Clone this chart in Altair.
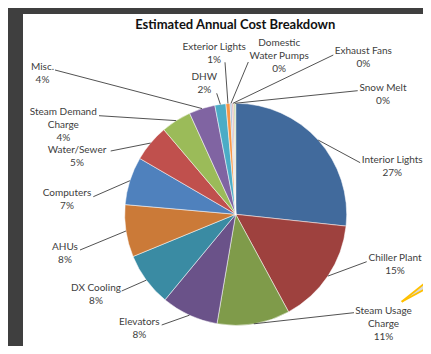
import math
import altair as alt
import pandas as pd

# ---------------- data ----------------
categories = ["Interior Lights", "Chiller Plant", "Steam Usage Charge", "Elevators",
              "DX Cooling", "AHUs", "Computers", "Water/Sewer", "Steam Demand Charge",
              "Misc.", "DHW", "Exterior Lights", "Domestic Water Pumps", "Exhaust Fans",
              "Snow Melt"]
label_names = ["Interior Lights", "Chiller Plant", "Steam Usage\nCharge", "Elevators",
               "DX Cooling", "AHUs", "Computers", "Water/Sewer", "Steam Demand\nCharge",
               "Misc.", "DHW", "Exterior Lights", "Domestic\nWater Pumps", "Exhaust Fans",
               "Snow Melt"]
shares = [26.7, 15.4, 10.6, 8.3, 7.8, 7.6, 7.0, 5.4, 4.4, 3.8, 1.6, 0.6, 0.27, 0.27, 0.27]
colors = ["#416A9C", "#9E413E", "#7F9B4A", "#6A5289", "#3A8BA3", "#CB7A38", "#4F81BD",
          "#C0504D", "#9BBB59", "#8064A2", "#4BACC6", "#F79646", "#A5B9D8", "#E0AEAD",
          "#C9D9A6"]
title_text = "Estimated Annual Cost Breakdown"

# ---------------- layout (annotation placement, pixels from pie centre) ----------------
W, H = 400, 332          # plot area
CX, CY, R = 212.7, 200.3, 111
# centre x / first-line y of each label block
label_off = [(156.5, -54.3), (159.3, 44.0), (147.8, 96.4), (-96.4, 107.4),
             (-139.7, 73.4), (-170.7, 32.4), (-168.7, -21.6), (-158.7, -64.8),
             (-172.4, -102.3), (-193.2, -147.6), (-31.4, -137.0), (-21.5, -167.6),
             (43.5, -171.0), (127.6, -163.3), (147.3, -126.0)]
leader_end = [(124.5, -51.6), (131.0, 47.4), (118.3, 98.4), (-74.0, 110.7),
              (-114.0, 76.7), (-155.7, 35.7), (-142.4, -17.6), (-125.0, -63.3),
              (-136.7, -98.6), (-180.7, -144.3), (-19.0, -121.0), (-10.7, -152.0),
              (12.6, -152.3), (97.6, -159.3), (122.0, -123.6)]
callout_x = [166.0, 195.3]
callout_top = [87.4, 64.0]
callout_bot = [87.4, 71.7]

# ---------------- tables ----------------
total = sum(shares)
slices = pd.DataFrame({"cat": categories, "value": shares, "idx": list(range(len(shares)))})

lab_rows, lead_rows = [], []
cum = 0.0
for i, (name, v) in enumerate(zip(label_names, shares)):
    a = 2 * math.pi * (cum + v / 2) / total
    cum += v
    ex, ey = R * math.sin(a), -R * math.cos(a)
    lab_rows.append({"x": label_off[i][0], "y": label_off[i][1],
                     "text": f"{name}\n{round(v)}%"})
    lead_rows.append({"i": i, "o": 0, "x": ex, "y": ey})
    lead_rows.append({"i": i, "o": 1, "x": leader_end[i][0], "y": leader_end[i][1]})
labels = pd.DataFrame(lab_rows)
leaders = pd.DataFrame(lead_rows)

callout = pd.DataFrame({"x": callout_x, "top": callout_top, "bot": callout_bot})
callout_edges = pd.DataFrame({
    "x": callout_x + callout_x,
    "y": callout_top + callout_bot,
    "edge": ["t", "t", "b", "b"],
})

xs = alt.Scale(domain=[-CX, W - CX], nice=False, zero=False)
ys = alt.Scale(domain=[-CY, H - CY], nice=False, zero=False, reverse=True)

arcs = alt.Chart(slices).mark_arc(radius=R, stroke="white", strokeWidth=0.5).encode(
    theta=alt.Theta("value:Q", stack=True),
    color=alt.Color("cat:N", scale=alt.Scale(domain=categories, range=colors), legend=None),
    order=alt.Order("idx:Q"),
    x=alt.value(CX),
    y=alt.value(CY),
)

lead = alt.Chart(leaders).mark_line(color="#262626", strokeWidth=0.8).encode(
    x=alt.X("x:Q", scale=xs, axis=None),
    y=alt.Y("y:Q", scale=ys, axis=None),
    detail="i:N",
    order="o:Q",
)

text = alt.Chart(labels).mark_text(
    lineBreak="\n", align="center", baseline="middle", lineHeight=13,
    font="Lato", fontSize=10, color="#404040",
).encode(
    x=alt.X("x:Q", scale=xs, axis=None),
    y=alt.Y("y:Q", scale=ys, axis=None),
    text="text:N",
)

title = alt.Chart(pd.DataFrame({"t": [title_text]})).mark_text(
    font="Lato", fontSize=13, fontWeight="bold", color="#111111",
    align="center", baseline="middle",
).encode(text="t:N", x=alt.value(212.3), y=alt.value(11))

call_area = alt.Chart(callout).mark_area(color="#D9D9D9").encode(
    x=alt.X("x:Q", scale=xs, axis=None),
    y=alt.Y("top:Q", scale=ys, axis=None),
    y2="bot:Q",
)
call_lines = alt.Chart(callout_edges).mark_line(color="#FFC000", strokeWidth=1.8).encode(
    x=alt.X("x:Q", scale=xs, axis=None),
    y=alt.Y("y:Q", scale=ys, axis=None),
    detail="edge:N",
)

chart = alt.layer(arcs, lead, text, title, call_area, call_lines).properties(
    width=W, height=H,
    padding={"left": 15, "top": 6, "right": 0, "bottom": 0},
    autosize=alt.AutoSizeParams(type="none"),
    background="#3f3f3f",
).configure_view(fill="white", strokeWidth=0)

chart.save("out.html", embed_options={"renderer": "svg", "actions": False})
